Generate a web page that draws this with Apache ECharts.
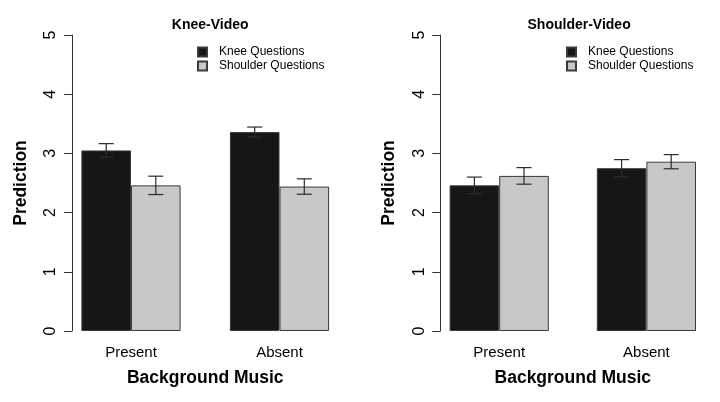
<!DOCTYPE html>
<html lang="en">

<head>
    <meta charset="UTF-8" />
    <title>Prediction by Background Music</title>
    <script src="https://cdn.jsdelivr.net/npm/echarts@6/dist/echarts.min.js"></script>
    <style>
        * {
            margin: 0;
        }

        #chart {
            width: 720px;
            height: 402px;
            background-color: #fff;
        }
    </style>
</head>

<body>
    <div id="chart"></div>
    <script>
        const categories = ["Present", "Absent"];
        const seriesNames = ["Knee Questions", "Shoulder Questions"];
        const yTicks = [0, 1, 2, 3, 4, 5];

        // Knee-Video panel
        const kneeVideoKnee = [3.05, 3.36];
        const kneeVideoKneeErr = [0.115, 0.085];
        const kneeVideoShoulder = [2.46, 2.44];
        const kneeVideoShoulderErr = [0.155, 0.13];

        // Shoulder-Video panel
        const shoulderVideoKnee = [2.46, 2.75];
        const shoulderVideoKneeErr = [0.14, 0.145];
        const shoulderVideoShoulder = [2.62, 2.86];
        const shoulderVideoShoulderErr = [0.14, 0.12];

        const font = "'Liberation Sans', Arial, Helvetica, sans-serif";
        const barW = 49.6;
        const darkFill = "#161616";
        const lightFill = "#c8c8c8";

        function errData(means, errs) {
            return means.map((m, i) => [i, m - errs[i], m + errs[i]]);
        }

        function errorSeries(idx, shift, means, errs) {
            return {
                type: "custom",
                xAxisIndex: idx,
                yAxisIndex: idx,
                data: errData(means, errs),
                encode: { x: 0, y: [1, 2] },
                z: 5,
                renderItem: function (params, api) {
                    const lo = api.coord([api.value(0), api.value(1)]);
                    const hi = api.coord([api.value(0), api.value(2)]);
                    const x = lo[0] + shift * barW / 2;
                    const cap = 7.5;
                    const style = { stroke: "#2b2b2b", lineWidth: 1.2 };
                    return {
                        type: "group",
                        children: [
                            { type: "line", shape: { x1: x, y1: lo[1], x2: x, y2: hi[1] }, style: style },
                            { type: "line", shape: { x1: x - cap, y1: lo[1], x2: x + cap, y2: lo[1] }, style: style },
                            { type: "line", shape: { x1: x - cap, y1: hi[1], x2: x + cap, y2: hi[1] }, style: style },
                        ],
                    };
                },
            };
        }

        function barSeries(idx, name, values, color) {
            return {
                type: "bar",
                name: name,
                xAxisIndex: idx,
                yAxisIndex: idx,
                data: values,
                barWidth: barW,
                barGap: "0%",
                itemStyle: { color: color, borderColor: "#3a3a3a", borderWidth: 1 },
            };
        }

        const panels = [
            { title: "Knee-Video", left: 56.75, offset: -15.25, legendLeft: 197 },
            { title: "Shoulder-Video", left: 425.6, offset: -14.7, legendLeft: 566 },
        ];

        const chart = echarts.init(document.getElementById("chart"));

        const option = {
            animation: false,
            textStyle: { fontFamily: font },
            title: panels.map((p) => ({
                text: p.title,
                left: p.left + 148.5,
                top: 13,
                textAlign: "center",
                textStyle: { fontFamily: font, fontSize: 14, fontWeight: "bold", color: "#000" },
            })),
            legend: panels.map((p) => ({
                data: seriesNames,
                orient: "vertical",
                left: p.legendLeft,
                top: 46,
                padding: 0,
                icon: "rect",
                itemWidth: 9,
                itemHeight: 9,
                itemGap: 2,
                textStyle: { fontFamily: font, fontSize: 12, color: "#000", padding: [0, 0, 0, 7] },
            })),
            grid: panels.map((p) => ({
                left: p.left,
                width: 297,
                top: 35,
                height: 296,
            })),
            xAxis: panels.map((p, i) => ({
                type: "category",
                gridIndex: i,
                data: categories,
                axisLine: { show: false },
                axisTick: { show: false },
                axisLabel: { fontFamily: font, fontSize: 15, color: "#000", margin: 14 },
                name: "Background Music",
                nameLocation: "middle",
                nameGap: 38,
                nameTextStyle: { fontFamily: font, fontSize: 17.5, fontWeight: "bold", color: "#000" },
            })),
            yAxis: panels.map((p, i) => ({
                type: "value",
                gridIndex: i,
                min: yTicks[0],
                max: yTicks[yTicks.length - 1],
                interval: 1,
                offset: p.offset,
                splitLine: { show: false },
                axisLine: { show: true, lineStyle: { color: "#333", width: 1 } },
                axisTick: { show: true, length: 8, lineStyle: { color: "#333" } },
                axisLabel: { fontFamily: font, fontSize: 16, color: "#000", rotate: 90, margin: 13 },
                name: "Prediction",
                nameLocation: "middle",
                nameGap: 42,
                nameTextStyle: { fontFamily: font, fontSize: 17.5, fontWeight: "bold", color: "#000" },
            })),
            series: [
                barSeries(0, seriesNames[0], kneeVideoKnee, darkFill),
                barSeries(0, seriesNames[1], kneeVideoShoulder, lightFill),
                errorSeries(0, -1, kneeVideoKnee, kneeVideoKneeErr),
                errorSeries(0, 1, kneeVideoShoulder, kneeVideoShoulderErr),
                barSeries(1, seriesNames[0], shoulderVideoKnee, darkFill),
                barSeries(1, seriesNames[1], shoulderVideoShoulder, lightFill),
                errorSeries(1, -1, shoulderVideoKnee, shoulderVideoKneeErr),
                errorSeries(1, 1, shoulderVideoShoulder, shoulderVideoShoulderErr),
            ],
        };

        chart.setOption(option);
    </script>
</body>

</html>
